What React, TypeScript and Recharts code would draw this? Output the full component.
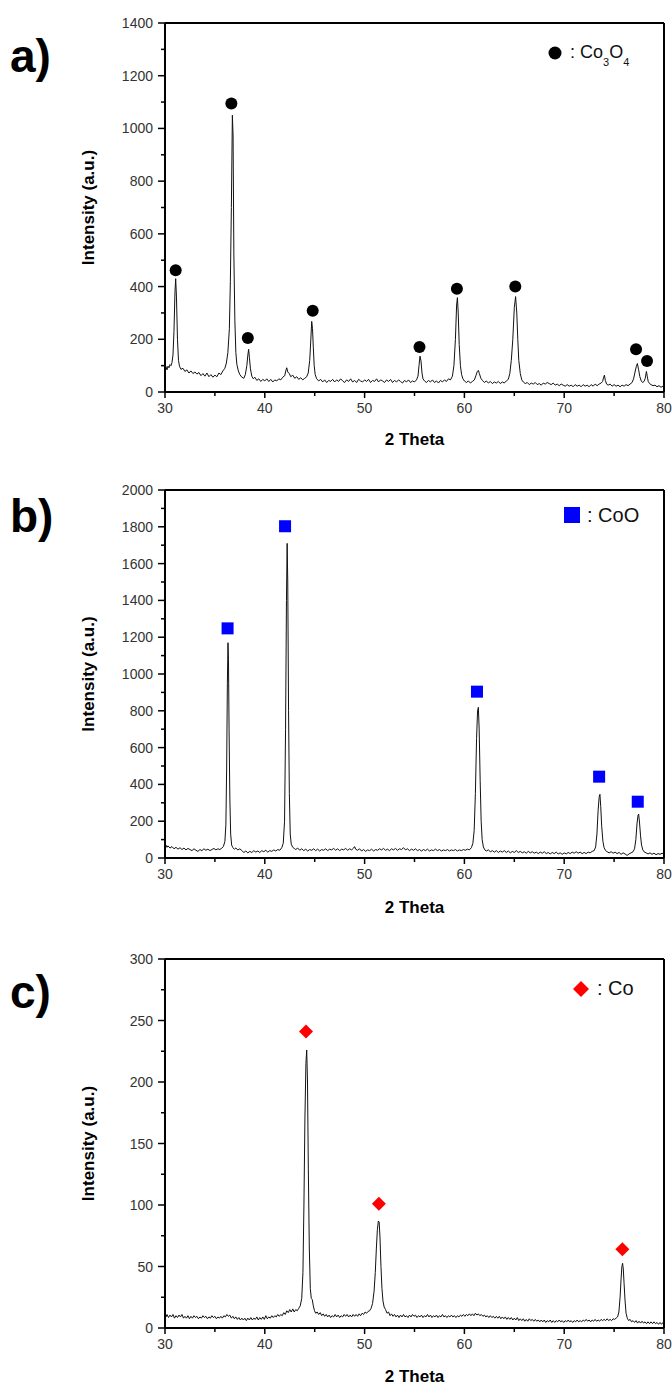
import React from "react";
import { ComposedChart, Line, Scatter, XAxis, YAxis, ReferenceLine } from "recharts";

// ---- x axis (2 theta) ----
const thetaTicks = [30, 35, 40, 45, 50, 55, 60, 65, 70, 75, 80];
const thetaLabels = [30, 40, 50, 60, 70, 80];

// ---- y axes ----
const ticksA = [0, 100, 200, 300, 400, 500, 600, 700, 800, 900, 1000, 1100, 1200, 1300, 1400];
const labelsA = [0, 200, 400, 600, 800, 1000, 1200, 1400];
const ticksB = [0, 100, 200, 300, 400, 500, 600, 700, 800, 900, 1000, 1100, 1200, 1300, 1400, 1500, 1600, 1700, 1800, 1900, 2000];
const labelsB = [0, 200, 400, 600, 800, 1000, 1200, 1400, 1600, 1800, 2000];
const ticksC = [0, 25, 50, 75, 100, 125, 150, 175, 200, 225, 250, 275, 300];
const labelsC = [0, 50, 100, 150, 200, 250, 300];

// ---- a) Co3O4 pattern [2theta, intensity] ----
const patternA: [number, number][] = [
  [30.0, 88], [30.1, 96], [30.2, 84], [30.3, 98], [30.4, 92], [30.5, 104], [30.6, 100], [30.7, 112], [30.8, 140],
  [30.9, 230], [31.0, 380], [31.07, 430], [31.15, 360], [31.25, 200], [31.35, 120], [31.45, 98], [31.6, 86],
  [31.8, 90], [32.0, 78], [32.2, 84], [32.4, 72], [32.6, 80], [32.8, 70], [33.0, 76], [33.2, 68], [33.4, 74],
  [33.6, 62], [33.8, 70], [34.0, 60], [34.2, 72], [34.4, 58], [34.6, 66], [34.8, 56], [35.0, 64], [35.2, 58],
  [35.4, 72], [35.6, 66], [35.8, 80], [36.0, 90], [36.15, 110], [36.3, 150], [36.45, 240], [36.55, 420],
  [36.65, 700], [36.75, 1050], [36.82, 975], [36.9, 520], [37.0, 270], [37.1, 150], [37.2, 105], [37.35, 80],
  [37.5, 66], [37.7, 56], [37.9, 52], [38.05, 66], [38.2, 100], [38.3, 140], [38.38, 162], [38.46, 130],
  [38.56, 88], [38.7, 60], [38.85, 50], [39.0, 56], [39.2, 44], [39.4, 50], [39.6, 40], [39.8, 48], [40.0, 42],
  [40.2, 50], [40.4, 40], [40.6, 48], [40.8, 38], [41.0, 46], [41.2, 42], [41.4, 50], [41.6, 46], [41.8, 56],
  [42.0, 62], [42.1, 80], [42.2, 92], [42.3, 76], [42.45, 70], [42.6, 58], [42.8, 64], [43.0, 52], [43.2, 58],
  [43.4, 48], [43.6, 54], [43.8, 46], [44.0, 52], [44.2, 58], [44.35, 72], [44.5, 120], [44.6, 190], [44.7, 268],
  [44.78, 240], [44.86, 170], [44.95, 100], [45.05, 66], [45.2, 50], [45.4, 42], [45.6, 48], [45.8, 38], [46.0, 46],
  [46.2, 36], [46.4, 44], [46.6, 40], [46.8, 48], [47.0, 38], [47.2, 46], [47.4, 40], [47.6, 50], [47.8, 42],
  [48.0, 36], [48.2, 46], [48.4, 40], [48.6, 50], [48.8, 38], [49.0, 44], [49.2, 36], [49.4, 48], [49.6, 42],
  [49.8, 38], [50.0, 46], [50.2, 40], [50.4, 48], [50.6, 36], [50.8, 44], [51.0, 40], [51.2, 50], [51.4, 38],
  [51.6, 46], [51.8, 42], [52.0, 36], [52.2, 46], [52.4, 40], [52.6, 48], [52.8, 36], [53.0, 44], [53.2, 38],
  [53.4, 46], [53.6, 40], [53.8, 34], [54.0, 44], [54.2, 38], [54.4, 46], [54.6, 36], [54.8, 42], [55.0, 38],
  [55.2, 46], [55.35, 60], [55.45, 100], [55.55, 136], [55.65, 118], [55.75, 72], [55.85, 50], [56.0, 42],
  [56.2, 36], [56.4, 44], [56.6, 38], [56.8, 46], [57.0, 36], [57.2, 42], [57.4, 34], [57.6, 44], [57.8, 38],
  [58.0, 46], [58.2, 40], [58.4, 50], [58.6, 46], [58.8, 60], [58.95, 100], [59.1, 200], [59.22, 330], [59.3, 358],
  [59.38, 300], [59.48, 180], [59.6, 100], [59.72, 66], [59.85, 50], [60.0, 42], [60.2, 36], [60.4, 42], [60.6, 34],
  [60.8, 40], [61.0, 46], [61.15, 62], [61.3, 78], [61.4, 82], [61.5, 70], [61.65, 52], [61.8, 44], [62.0, 36],
  [62.2, 42], [62.4, 34], [62.6, 40], [62.8, 32], [63.0, 38], [63.2, 34], [63.4, 40], [63.6, 32], [63.8, 38],
  [64.0, 34], [64.2, 42], [64.4, 48], [64.55, 70], [64.7, 120], [64.85, 200], [65.0, 320], [65.13, 362],
  [65.25, 300], [65.35, 200], [65.45, 120], [65.6, 70], [65.75, 46], [65.9, 38], [66.1, 32], [66.3, 36], [66.5, 28],
  [66.7, 34], [66.9, 30], [67.1, 36], [67.3, 28], [67.5, 32], [67.7, 26], [67.9, 34], [68.1, 30], [68.3, 36],
  [68.5, 32], [68.7, 28], [68.9, 34], [69.1, 26], [69.3, 30], [69.5, 24], [69.7, 30], [69.9, 26], [70.1, 22],
  [70.3, 28], [70.5, 22], [70.7, 26], [70.9, 20], [71.1, 28], [71.3, 22], [71.5, 26], [71.7, 20], [71.9, 28],
  [72.1, 22], [72.3, 26], [72.5, 20], [72.7, 28], [72.9, 22], [73.1, 30], [73.3, 24], [73.5, 30], [73.7, 34],
  [73.85, 40], [73.95, 56], [74.03, 64], [74.12, 44], [74.25, 30], [74.4, 26], [74.6, 30], [74.8, 22], [75.0, 28],
  [75.2, 22], [75.4, 26], [75.6, 20], [75.8, 26], [76.0, 22], [76.2, 28], [76.4, 24], [76.6, 30], [76.8, 36],
  [76.95, 50], [77.1, 76], [77.22, 96], [77.33, 108], [77.45, 86], [77.58, 58], [77.72, 42], [77.85, 36],
  [78.0, 40], [78.12, 52], [78.24, 78], [78.32, 60], [78.42, 40], [78.55, 32], [78.7, 28], [78.9, 24], [79.1, 26],
  [79.3, 20], [79.5, 24], [79.7, 18], [79.9, 22], [80.0, 20],
];
const markersA: [number, number][] = [
  [31.07, 462], [36.65, 1095], [38.3, 205], [44.8, 308], [55.5, 171], [59.25, 392], [65.1, 400], [77.2, 162], [78.3, 118],
];

// ---- b) CoO pattern ----
const patternB: [number, number][] = [
  [30.0, 62], [30.1, 70], [30.2, 58], [30.3, 66], [30.5, 54], [30.7, 62], [30.9, 50], [31.1, 58], [31.3, 48],
  [31.5, 56], [31.7, 46], [31.9, 54], [32.1, 44], [32.3, 52], [32.5, 46], [32.7, 40], [32.9, 50], [33.1, 42],
  [33.3, 36], [33.5, 46], [33.7, 40], [33.9, 50], [34.1, 42], [34.3, 48], [34.5, 40], [34.7, 46], [34.9, 52],
  [35.1, 44], [35.3, 50], [35.5, 46], [35.7, 54], [35.85, 62], [36.0, 90], [36.1, 180], [36.18, 500], [36.25, 950],
  [36.31, 1170], [36.36, 1080], [36.42, 700], [36.5, 320], [36.58, 130], [36.68, 70], [36.8, 56], [36.95, 48],
  [37.1, 54], [37.3, 44], [37.5, 50], [37.7, 40], [37.9, 30], [38.1, 38], [38.3, 28], [38.5, 36], [38.7, 30],
  [38.9, 40], [39.1, 32], [39.3, 38], [39.5, 30], [39.7, 40], [39.9, 34], [40.1, 42], [40.3, 32], [40.5, 40],
  [40.7, 36], [40.9, 44], [41.1, 38], [41.3, 46], [41.5, 42], [41.7, 56], [41.85, 80], [41.98, 200], [42.08, 700],
  [42.17, 1400], [42.24, 1710], [42.3, 1500], [42.38, 800], [42.46, 350], [42.55, 130], [42.65, 75], [42.8, 58],
  [42.95, 52], [43.1, 46], [43.3, 54], [43.5, 42], [43.7, 50], [43.9, 40], [44.1, 48], [44.3, 38], [44.5, 46],
  [44.7, 42], [44.9, 50], [45.1, 40], [45.3, 48], [45.5, 38], [45.7, 46], [45.9, 42], [46.1, 50], [46.3, 40],
  [46.5, 48], [46.7, 44], [46.9, 52], [47.1, 42], [47.3, 50], [47.5, 40], [47.7, 48], [47.9, 44], [48.1, 52],
  [48.3, 42], [48.5, 50], [48.7, 44], [48.9, 54], [49.0, 62], [49.1, 48], [49.3, 42], [49.5, 50], [49.7, 38],
  [49.9, 46], [50.1, 36], [50.3, 44], [50.5, 40], [50.7, 48], [50.9, 38], [51.1, 46], [51.3, 42], [51.5, 50],
  [51.7, 44], [51.9, 52], [52.1, 42], [52.3, 48], [52.5, 40], [52.7, 50], [52.9, 44], [53.1, 52], [53.3, 42],
  [53.5, 50], [53.7, 46], [53.9, 56], [54.1, 44], [54.3, 50], [54.5, 40], [54.7, 48], [54.9, 42], [55.1, 50],
  [55.3, 40], [55.5, 46], [55.7, 38], [55.9, 46], [56.1, 40], [56.3, 48], [56.5, 38], [56.7, 44], [56.9, 40],
  [57.1, 48], [57.3, 40], [57.5, 46], [57.7, 38], [57.9, 44], [58.1, 40], [58.3, 46], [58.5, 38], [58.7, 44],
  [58.9, 40], [59.1, 46], [59.3, 38], [59.5, 44], [59.7, 40], [59.9, 46], [60.1, 42], [60.3, 48], [60.5, 44],
  [60.7, 56], [60.85, 80], [60.98, 150], [61.1, 350], [61.22, 650], [61.32, 800], [61.4, 819], [61.48, 700],
  [61.58, 420], [61.68, 200], [61.78, 100], [61.9, 60], [62.05, 44], [62.2, 38], [62.4, 44], [62.6, 34], [62.8, 40],
  [63.0, 32], [63.2, 40], [63.4, 30], [63.6, 38], [63.8, 32], [64.0, 40], [64.2, 30], [64.4, 38], [64.6, 28],
  [64.8, 36], [65.0, 30], [65.2, 40], [65.4, 30], [65.6, 36], [65.8, 28], [66.0, 34], [66.2, 26], [66.4, 36],
  [66.6, 28], [66.8, 34], [67.0, 26], [67.2, 32], [67.4, 24], [67.6, 32], [67.8, 26], [68.0, 34], [68.2, 24],
  [68.4, 30], [68.6, 22], [68.8, 30], [69.0, 24], [69.2, 32], [69.4, 22], [69.6, 28], [69.8, 20], [70.0, 28],
  [70.2, 22], [70.4, 30], [70.6, 24], [70.8, 32], [71.0, 26], [71.2, 34], [71.4, 26], [71.6, 32], [71.8, 24],
  [72.0, 30], [72.2, 24], [72.4, 32], [72.6, 28], [72.8, 36], [73.0, 40], [73.15, 60], [73.28, 130], [73.4, 260],
  [73.5, 330], [73.58, 346], [73.66, 280], [73.76, 170], [73.88, 90], [74.0, 56], [74.15, 40], [74.3, 34],
  [74.5, 28], [74.7, 34], [74.9, 26], [75.1, 32], [75.3, 24], [75.5, 30], [75.7, 20], [75.9, 28], [76.1, 22],
  [76.3, 14], [76.5, 22], [76.7, 28], [76.9, 34], [77.05, 50], [77.18, 100], [77.3, 190], [77.4, 232], [77.46, 239],
  [77.55, 190], [77.65, 120], [77.75, 70], [77.88, 44], [78.0, 34], [78.2, 28], [78.4, 22], [78.6, 28], [78.8, 20],
  [79.0, 26], [79.2, 18], [79.4, 24], [79.6, 20], [79.8, 26], [80.0, 22],
];
const markersB: [number, number][] = [
  [36.27, 1248], [42.03, 1803], [61.26, 904], [73.5, 442], [77.37, 306],
];

// ---- c) Co pattern ----
const patternC: [number, number][] = [
  [30.0, 12], [30.1, 9], [30.2, 11], [30.35, 8.5], [30.5, 10.5], [30.65, 9], [30.8, 11], [30.95, 8], [31.1, 10],
  [31.25, 8.5], [31.4, 10.5], [31.55, 9], [31.7, 11], [31.85, 8], [32.0, 9.5], [32.15, 8], [32.3, 10], [32.45, 7.5],
  [32.6, 9.5], [32.75, 8], [32.9, 10], [33.05, 8.5], [33.2, 9.5], [33.35, 7.5], [33.5, 9], [33.65, 8], [33.8, 10],
  [33.95, 8.5], [34.1, 9.5], [34.25, 7.5], [34.4, 9], [34.55, 8], [34.7, 10], [34.85, 8.5], [35.0, 9.5],
  [35.15, 7.5], [35.3, 9], [35.45, 8], [35.6, 9.5], [35.75, 8], [35.9, 10], [36.05, 9], [36.2, 11], [36.35, 9.5],
  [36.5, 10.5], [36.65, 8], [36.8, 9.5], [36.95, 7.5], [37.1, 9], [37.25, 7], [37.4, 8.5], [37.55, 6.5], [37.7, 8],
  [37.85, 6.5], [38.0, 8], [38.15, 6], [38.3, 8], [38.45, 6.5], [38.6, 8.5], [38.75, 6.5], [38.9, 8], [39.05, 7],
  [39.2, 9], [39.35, 6.5], [39.5, 8.5], [39.65, 7], [39.8, 9], [39.95, 7], [40.1, 10], [40.25, 7.5], [40.4, 9],
  [40.55, 8], [40.7, 10], [40.85, 8.5], [41.0, 10], [41.15, 9], [41.3, 11], [41.45, 9.5], [41.6, 11], [41.75, 10],
  [41.9, 12.5], [42.05, 11], [42.2, 14], [42.35, 12.5], [42.5, 15], [42.65, 13], [42.8, 15.5], [42.95, 13],
  [43.1, 15], [43.25, 14], [43.4, 16], [43.55, 18], [43.7, 24], [43.82, 45], [43.92, 100], [44.02, 170],
  [44.12, 215], [44.2, 226], [44.28, 200], [44.36, 130], [44.46, 65], [44.56, 32], [44.66, 24], [44.76, 23],
  [44.86, 18], [44.98, 14], [45.1, 12], [45.25, 13], [45.4, 11], [45.55, 12.5], [45.7, 10], [45.85, 11.5],
  [46.0, 9.5], [46.15, 11], [46.3, 9], [46.45, 10.5], [46.6, 8.5], [46.75, 10], [46.9, 9], [47.05, 11], [47.2, 9],
  [47.35, 10.5], [47.5, 8.5], [47.65, 10], [47.8, 9], [47.95, 11], [48.1, 9.5], [48.25, 11], [48.4, 9],
  [48.55, 10.5], [48.7, 9], [48.85, 11], [49.0, 9.5], [49.15, 11], [49.3, 9.5], [49.45, 11.5], [49.6, 10],
  [49.75, 12], [49.9, 11], [50.05, 13], [50.2, 12], [50.35, 13.5], [50.5, 14], [50.65, 16], [50.8, 20],
  [50.95, 30], [51.07, 45], [51.18, 65], [51.28, 80], [51.38, 87], [51.46, 86], [51.54, 74], [51.64, 50],
  [51.74, 32], [51.84, 22], [51.96, 17], [52.1, 15], [52.25, 12], [52.4, 13], [52.55, 10], [52.7, 11.5],
  [52.85, 9.5], [53.0, 11], [53.15, 9], [53.3, 10.5], [53.45, 8.5], [53.6, 10.5], [53.75, 9], [53.9, 11],
  [54.05, 9], [54.2, 10], [54.35, 8.5], [54.5, 10.5], [54.65, 9], [54.8, 11], [54.95, 9.5], [55.1, 10.5],
  [55.25, 8.5], [55.4, 10], [55.55, 9], [55.7, 10.5], [55.85, 8.5], [56.0, 10], [56.15, 9], [56.3, 11], [56.45, 9],
  [56.6, 10.5], [56.75, 8.5], [56.9, 10], [57.05, 9], [57.2, 10.5], [57.35, 8.5], [57.5, 10], [57.65, 9],
  [57.8, 11], [57.95, 9], [58.1, 10], [58.25, 8.5], [58.4, 10], [58.55, 9], [58.7, 10.5], [58.85, 9], [59.0, 10],
  [59.15, 8.5], [59.3, 10], [59.45, 9], [59.6, 10.5], [59.75, 9.5], [59.9, 11], [60.05, 9.5], [60.2, 11],
  [60.35, 10], [60.5, 11.5], [60.65, 10], [60.8, 11.5], [60.95, 10], [61.1, 12], [61.25, 10.5], [61.4, 11.5],
  [61.55, 10], [61.7, 11], [61.85, 9.5], [62.0, 10.5], [62.15, 9], [62.3, 10], [62.45, 8.5], [62.6, 10],
  [62.75, 8.5], [62.9, 9.5], [63.05, 8], [63.2, 9.5], [63.35, 8], [63.5, 9.5], [63.65, 7.5], [63.8, 9],
  [63.95, 7.5], [64.1, 9], [64.25, 7], [64.4, 8.5], [64.55, 7], [64.7, 8.5], [64.85, 6.5], [65.0, 8], [65.15, 6.5],
  [65.3, 8.5], [65.45, 6], [65.6, 7.5], [65.75, 6], [65.9, 7.5], [66.05, 5.5], [66.2, 7], [66.35, 5.5], [66.5, 7.5],
  [66.65, 6], [66.8, 7], [66.95, 5.5], [67.1, 7], [67.25, 5.5], [67.4, 6.5], [67.55, 5], [67.7, 6.5], [67.85, 5],
  [68.0, 6.5], [68.15, 4.5], [68.3, 6], [68.45, 5], [68.6, 6.5], [68.75, 4.5], [68.9, 6], [69.05, 4.5], [69.2, 6],
  [69.35, 5], [69.5, 6.5], [69.65, 5], [69.8, 6], [69.95, 4.5], [70.1, 6], [70.25, 5], [70.4, 6.5], [70.55, 5],
  [70.7, 6], [70.85, 4.5], [71.0, 6], [71.15, 5], [71.3, 6.5], [71.45, 5], [71.6, 6], [71.75, 5], [71.9, 6.5],
  [72.05, 5.5], [72.2, 7], [72.35, 5.5], [72.5, 6.5], [72.65, 5], [72.8, 6.5], [72.95, 5.5], [73.1, 7],
  [73.25, 5.5], [73.4, 6.5], [73.55, 5.5], [73.7, 7], [73.85, 6], [74.0, 7], [74.15, 6], [74.3, 7.5], [74.45, 6],
  [74.6, 7], [74.75, 6], [74.9, 7.5], [75.05, 7], [75.2, 8], [75.35, 9], [75.48, 13], [75.6, 25], [75.7, 40],
  [75.78, 50], [75.85, 52.6], [75.92, 48], [76.0, 36], [76.1, 22], [76.2, 12], [76.32, 8], [76.45, 6], [76.6, 7],
  [76.75, 5], [76.9, 6], [77.05, 4.5], [77.2, 6], [77.35, 4], [77.5, 5.5], [77.65, 4], [77.8, 5.5], [77.95, 4],
  [78.1, 5], [78.25, 3.5], [78.4, 5], [78.55, 3.5], [78.7, 5], [78.85, 3.5], [79.0, 5], [79.15, 3.5], [79.3, 4.5],
  [79.45, 3], [79.6, 4.5], [79.75, 3], [79.9, 4.5], [80.0, 6],
];
const markersC: [number, number][] = [
  [44.13, 241], [51.43, 101], [75.83, 64],
];

const FONT = "'Liberation Sans', Arial, sans-serif";
const toPoints = (rows: [number, number][]) => rows.map(([theta, counts]) => ({ theta, counts }));

function ThetaTick({ x, y, payload }: any) {
  const major = thetaLabels.includes(payload.value);
  return (
    <g>
      <line x1={x} x2={x} y1={y} y2={y + (major ? 6 : 4)} stroke="#000" strokeWidth={1.5} />
      {major && (
        <text x={x} y={y + 21} textAnchor="middle" fontSize={14} fill="#333" fontFamily={FONT}>
          {payload.value}
        </text>
      )}
    </g>
  );
}

function makeYTick(labels: number[]) {
  return function YTick({ x, y, payload }: any) {
    const major = labels.includes(payload.value);
    return (
      <g>
        <line x1={x - (major ? 7 : 4)} x2={x} y1={y} y2={y} stroke="#000" strokeWidth={1.5} />
        {major && (
          <text x={x - 12} y={y} dy="0.36em" textAnchor="end" fontSize={14} fill="#333" fontFamily={FONT}>
            {payload.value}
          </text>
        )}
      </g>
    );
  };
}

const TickA = makeYTick(labelsA);
const TickB = makeYTick(labelsB);
const TickC = makeYTick(labelsC);

interface PanelProps {
  top: number;
  height: number;
  plotTop: number;
  plotHeight: number;
  yMax: number;
  yTicks: number[];
  YTickComp: any;
  pattern: [number, number][];
  markers: [number, number][];
  shape: (p: any) => React.ReactElement;
  titleOffset: number;
  letter: string;
  letterY: number;
  legend: React.ReactNode;
}

function Panel(props: PanelProps) {
  const { top, height, plotTop, plotHeight, yMax, yTicks, YTickComp, pattern, markers, shape, titleOffset, letter, letterY, legend } = props;
  return (
    <div style={{ position: "absolute", left: 0, top, width: 672, height }}>
      <ComposedChart width={672} height={height} margin={{ top: plotTop, right: 8, left: 0, bottom: 0 }}>
        <XAxis
          dataKey="theta"
          type="number"
          domain={[30, 80]}
          ticks={thetaTicks}
          interval={0}
          allowDataOverflow
          height={height - plotTop - plotHeight}
          tickSize={0}
          tickMargin={0}
          tickLine={false}
          tick={<ThetaTick />}
          axisLine={{ stroke: "#000", strokeWidth: 2 }}
          label={{ value: "2 Theta", position: "insideTop", offset: titleOffset, fill: "#000", fontSize: 17, fontWeight: "bold", fontFamily: FONT }}
        />
        <YAxis
          dataKey="counts"
          type="number"
          domain={[0, yMax]}
          ticks={yTicks}
          interval={0}
          allowDataOverflow
          width={165}
          tickSize={0}
          tickMargin={0}
          tickLine={false}
          tick={<YTickComp />}
          axisLine={{ stroke: "#000", strokeWidth: 2 }}
          label={{
            value: "Intensity (a.u.)",
            angle: -90,
            position: "insideLeft",
            offset: 88,
            fill: "#000",
            fontSize: 17,
            fontWeight: "bold",
            fontFamily: FONT,
            style: { textAnchor: "middle" },
          }}
        />
        <ReferenceLine y={yMax} stroke="#000" strokeWidth={2} />
        <ReferenceLine x={80} stroke="#000" strokeWidth={2} />
        <Line
          data={toPoints(pattern)}
          dataKey="counts"
          type="linear"
          dot={false}
          stroke="#111"
          strokeWidth={1}
          isAnimationActive={false}
        />
        <Scatter data={toPoints(markers)} dataKey="counts" shape={shape} isAnimationActive={false} />
      </ComposedChart>
      <svg width={672} height={height} style={{ position: "absolute", left: 0, top: 0, pointerEvents: "none" }}>
        <text x={10} y={letterY} fontSize={46} fontWeight="bold" fontFamily={FONT} fill="#000">
          {letter}
        </text>
        {legend}
      </svg>
    </div>
  );
}

const circleShape = (p: any) => <circle cx={p.cx} cy={p.cy} r={6} fill="#000" />;
const squareShape = (p: any) => <rect x={p.cx - 6} y={p.cy - 6} width={12} height={12} fill="#0000ff" />;
const diamondShape = (p: any) => (
  <polygon points={`${p.cx},${p.cy - 7} ${p.cx + 7},${p.cy} ${p.cx},${p.cy + 7} ${p.cx - 7},${p.cy}`} fill="#ff0000" />
);

export default function App() {
  return (
    <div style={{ position: "absolute", left: 0, top: 0, width: 672, height: 1385, background: "#fff" }}>
      <Panel
        top={0}
        height={460}
        plotTop={23}
        plotHeight={369}
        yMax={1400}
        yTicks={ticksA}
        YTickComp={TickA}
        pattern={patternA}
        markers={markersA}
        shape={circleShape}
        titleOffset={41}
        letter="a)"
        letterY={72}
        legend={
          <g>
            <circle cx={555} cy={53} r={6.5} fill="#000" />
            <text x={570} y={58} fontSize={18} fontFamily={FONT} fill="#111">
              : Co
              <tspan fontSize={11} dy={8}>3</tspan>
              <tspan dy={-8}>O</tspan>
              <tspan fontSize={11} dy={8}>4</tspan>
            </text>
          </g>
        }
      />
      <Panel
        top={460}
        height={460}
        plotTop={30}
        plotHeight={368}
        yMax={2000}
        yTicks={ticksB}
        YTickComp={TickB}
        pattern={patternB}
        markers={markersB}
        shape={squareShape}
        titleOffset={43}
        letter="b)"
        letterY={72}
        legend={
          <g>
            <rect x={564} y={47} width={16} height={16} fill="#0000ff" />
            <text x={587} y={62} fontSize={20} fontFamily={FONT} fill="#111">
              : CoO
            </text>
          </g>
        }
      />
      <Panel
        top={920}
        height={465}
        plotTop={39}
        plotHeight={369}
        yMax={300}
        yTicks={ticksC}
        YTickComp={TickC}
        pattern={patternC}
        markers={markersC}
        shape={diamondShape}
        titleOffset={42}
        letter="c)"
        letterY={88}
        legend={
          <g>
            <polygon points="581,61 589,69 581,77 573,69" fill="#ff0000" />
            <text x={597} y={75} fontSize={20} fontFamily={FONT} fill="#111">
              : Co
            </text>
          </g>
        }
      />
    </div>
  );
}
